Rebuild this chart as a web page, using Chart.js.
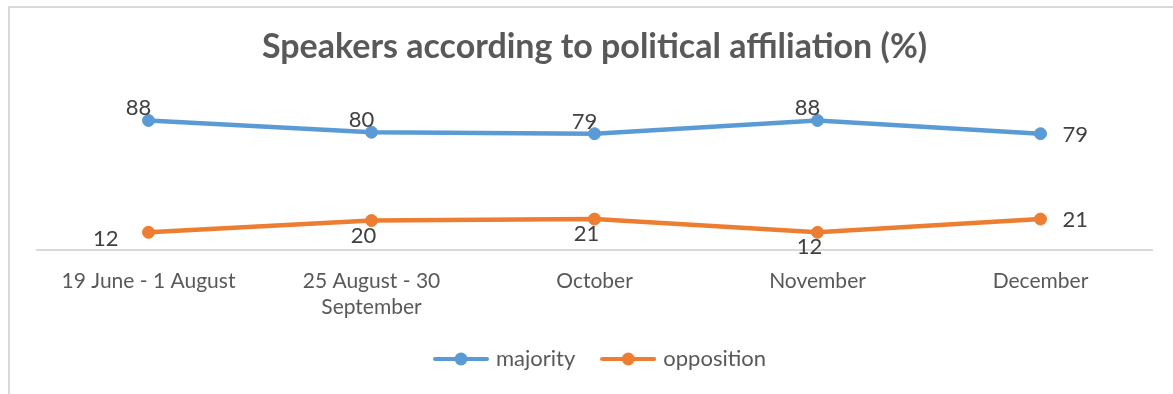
<!DOCTYPE html>
<html lang="en">
<head>
    <meta charset="UTF-8">
    <title>Speakers according to political affiliation</title>
    <script src="https://cdn.jsdelivr.net/npm/chart.js"></script>
    <style>
        html, body { margin: 0; padding: 0; background: #fff; }
        .frame {
            position: absolute;
            left: 8px; top: 6px; right: 0; bottom: 0;
            border-left: 2px solid #d9d9d9;
            border-top: 2px solid #d9d9d9;
        }
        #chart { position: absolute; left: 0; top: 0; }
    </style>
</head>
<body>
    <div class="frame"></div>
    <canvas id="chart" width="1173" height="394"></canvas>

    <script>
        // Data
        const periods = [['19 June - 1 August'], ['25 August - 30', 'September'], ['October'], ['November'], ['December']];
        const majority = [88, 80, 79, 88, 79];
        const opposition = [12, 20, 21, 12, 21];

        // where each value label sits relative to its point
        const majorityLabelPos = ['above', 'above', 'above', 'above', 'right'];
        const oppositionLabelPos = ['left', 'below', 'below', 'below', 'right'];

        const BLUE = '#5b9bd5';
        const ORANGE = '#ed7d31';
        const FONT = 'Lato, "Open Sans", sans-serif';

        // legend marker: short line with a dot in the middle
        function legendMarker(color) {
            const c = document.createElement('canvas');
            c.width = 56;
            c.height = 14;
            const ctx = c.getContext('2d');
            ctx.strokeStyle = color;
            ctx.lineWidth = 4;
            ctx.lineCap = 'round';
            ctx.beginPath();
            ctx.moveTo(2, 7);
            ctx.lineTo(54, 7);
            ctx.stroke();
            ctx.fillStyle = color;
            ctx.beginPath();
            ctx.arc(28, 7, 6.5, 0, Math.PI * 2);
            ctx.fill();
            return c;
        }

        // value labels drawn next to each point
        const valueLabels = {
            id: 'valueLabels',
            afterDatasetsDraw(chart) {
                const ctx = chart.ctx;
                const positions = [majorityLabelPos, oppositionLabelPos];
                ctx.save();
                ctx.font = '22px ' + FONT;
                ctx.fillStyle = '#404040';
                chart.data.datasets.forEach((ds, di) => {
                    const meta = chart.getDatasetMeta(di);
                    meta.data.forEach((pt, i) => {
                        const pos = positions[di][i];
                        const text = String(ds.data[i]);
                        let x = pt.x, y = pt.y;
                        ctx.textBaseline = 'alphabetic';
                        if (pos === 'above') {
                            ctx.textAlign = 'center';
                            x -= 10; y -= 5;
                        } else if (pos === 'below') {
                            ctx.textAlign = 'center';
                            x -= 8; y += 22;
                        } else if (pos === 'left') {
                            ctx.textAlign = 'right';
                            x -= 30; y += 14;
                        } else {
                            ctx.textAlign = 'left';
                            x += 22; y += 8;
                        }
                        ctx.fillText(text, x, y);
                    });
                });
                ctx.restore();
            }
        };

        // nudge the legend a little to the right, like the original
        const legendShift = {
            id: 'legendShift',
            beforeDraw(chart) {
                const lg = chart.legend;
                if (lg && !lg._shifted) {
                    lg.left += 7;
                    lg.right += 7;
                    lg._shifted = true;
                }
            }
        };

        const markers = [legendMarker(BLUE), legendMarker(ORANGE)];

        new Chart(document.getElementById('chart'), {
            type: 'line',
            data: {
                labels: periods,
                datasets: [
                    {
                        label: 'majority',
                        data: majority,
                        borderColor: BLUE,
                        backgroundColor: BLUE,
                        borderWidth: 4.5,
                        pointRadius: 6,
                        pointBorderWidth: 1,
                        tension: 0
                    },
                    {
                        label: 'opposition',
                        data: opposition,
                        borderColor: ORANGE,
                        backgroundColor: ORANGE,
                        borderWidth: 4.5,
                        pointRadius: 6,
                        pointBorderWidth: 1,
                        tension: 0
                    }
                ]
            },
            options: {
                responsive: false,
                animation: false,
                layout: {
                    padding: { left: 37, right: 21, top: 0, bottom: 14 }
                },
                scales: {
                    x: {
                        offset: true,
                        grid: { display: false },
                        border: { display: true, color: '#d9d9d9', width: 2 },
                        ticks: {
                            color: '#595959',
                            padding: 10,
                            maxRotation: 0,
                            autoSkip: false,
                            font: { family: FONT, size: 21, lineHeight: 1.24 }
                        },
                        afterFit(scale) { scale.height = 69; }
                    },
                    y: {
                        display: false,
                        min: 0,
                        max: 100
                    }
                },
                plugins: {
                    title: {
                        display: true,
                        text: 'Speakers according to political affiliation (%)',
                        color: '#595959',
                        font: { family: FONT, size: 34, weight: 'bold', lineHeight: 1.2 },
                        padding: { top: 27, bottom: 35 }
                    },
                    legend: {
                        position: 'bottom',
                        labels: {
                            color: '#595959',
                            font: { family: FONT, size: 22 },
                            usePointStyle: true,
                            pointStyleWidth: 48,
                            padding: 29,
                            generateLabels(chart) {
                                return chart.data.datasets.map((ds, i) => ({
                                    text: ds.label,
                                    fontColor: '#595959',
                                    pointStyle: markers[i],
                                    fillStyle: ds.borderColor,
                                    strokeStyle: ds.borderColor,
                                    lineWidth: 0,
                                    hidden: false,
                                    datasetIndex: i
                                }));
                            }
                        }
                    },
                    tooltip: { enabled: false }
                }
            },
            plugins: [valueLabels, legendShift]
        });
    </script>
</body>
</html>
